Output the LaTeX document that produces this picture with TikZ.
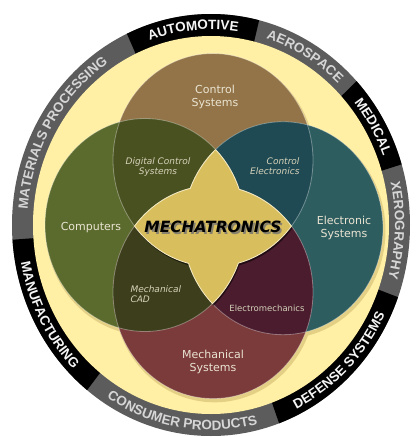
\documentclass[tikz,border=0pt]{standalone}
\usepackage{fontspec}
\setmainfont{DejaVu Sans}
\newfontfamily\ringfont{Liberation Sans}[UprightFont={* Bold}]
\usetikzlibrary{decorations.text,calc}
\definecolor{ringgray}{RGB}{92,92,92}
\definecolor{ringyellow}{RGB}{255,240,165}
\definecolor{ctlbrown}{RGB}{147,116,72}
\definecolor{compgreen}{RGB}{91,106,45}
\definecolor{electeal}{RGB}{46,93,96}
\definecolor{mechred}{RGB}{123,59,59}
\definecolor{dcsolive}{RGB}{74,81,32}
\definecolor{ceteal}{RGB}{31,74,83}
\definecolor{cadolive}{RGB}{61,63,28}
\definecolor{emplum}{RGB}{74,28,46}
\definecolor{stargold}{RGB}{217,190,94}
\definecolor{starline}{RGB}{245,235,195}
\definecolor{labcol}{RGB}{234,228,210}
\definecolor{smallcol}{RGB}{214,210,186}
\definecolor{shadowcol}{RGB}{228,208,132}
\definecolor{graytext}{RGB}{214,214,214}
\definecolor{blacktext}{RGB}{245,245,245}

\newcommand\ringout[4]{%
  \path[decorate, decoration={text along path, text align=center,
    text={|\ringfont\fontsize{13.5}{13.5}\selectfont\color{#3}|#4}}]
    ($(C)+(#1:184 and 195.5)$) arc[start angle=#1, end angle=#2, x radius=184, y radius=195.5];}
\newcommand\ringin[4]{%
  \path[decorate, decoration={text along path, text align=center,
    text={|\ringfont\fontsize{13.5}{13.5}\selectfont\color{#3}|#4}}]
    ($(C)+(#1:193.5 and 205)$) arc[start angle=#1, end angle=#2, x radius=193.5, y radius=205];}

\def\starpath{(4.57,70.84) arc[start angle=132.4, end angle=158.06, radius=100]
  arc[start angle=103.15, end angle=141.69, radius=100]
  arc[start angle=218.31, end angle=255.87, radius=100]
  arc[start angle=199.25, end angle=225.11, radius=100]
  arc[start angle=-47.6, end angle=-20.93, radius=100]
  arc[start angle=-75.28, end angle=-38.31, radius=100]
  arc[start angle=38.31, end angle=74.8, radius=100]
  arc[start angle=19.57, end angle=45.11, radius=100] -- cycle}

\tikzset{
  biglabel/.style={text=labcol, align=center, font=\fontsize{11}{13.5}\selectfont},
  smalllabel/.style={text=smallcol, font=\fontsize{9}{10.5}\selectfont\itshape},
  outline/.style={draw=white, draw opacity=.35, line width=.8pt},
}

\begin{document}
\begin{tikzpicture}[x=1pt,y=1pt]
\fill[white] (0,0) rectangle (419,-437);
\useasboundingbox (0,0) rectangle (419,-437);
\coordinate (C) at (211,-225);

% outer ring
\fill[ringgray] (C) ellipse [x radius=199, y radius=211];
\foreach \a/\b in {115/76, 43/16.7, -20/-70, 231.5/184}
  \fill[black] (C) -- ++(\a:199 and 211) arc[start angle=\a, end angle=\b, x radius=199, y radius=211] -- cycle;
\fill[ringyellow] (C) ellipse [x radius=178, y radius=189];

% ring labels
\ringout{184}{115}{graytext}{MATERIALS PROCESSING}
\ringout{115}{76}{blacktext}{AUTOMOTIVE}
\ringout{76}{43}{graytext}{AEROSPACE}
\ringout{43}{16.7}{blacktext}{MEDICAL}
\ringout{16.7}{-20}{graytext}{XEROGRAPHY}
\ringin{184}{231.5}{blacktext}{MANUFACTURING}
\ringin{231.5}{290}{graytext}{CONSUMER PRODUCTS}
\ringin{290}{340}{blacktext}{DEFENSE SYSTEMS}

% Venn circles
\begin{scope}[shift={(211,-225)}, yscale=1.065]
  \foreach \cx/\cy in {2/61,-66/0,72/-3,2/-63}
    \fill[shadowcol] (\cx+1.5,\cy-2.5) circle[radius=101];
  \fill[ctlbrown] (2,61) circle[radius=100];
  \fill[compgreen] (-66,0) circle[radius=100];
  \fill[electeal] (72,-3) circle[radius=100];
  \fill[mechred] (2,-63) circle[radius=100];
  \begin{scope}\clip (2,61) circle[radius=100]; \fill[dcsolive] (-66,0) circle[radius=100];\end{scope}
  \begin{scope}\clip (2,61) circle[radius=100]; \fill[ceteal] (72,-3) circle[radius=100];\end{scope}
  \begin{scope}\clip (2,-63) circle[radius=100]; \fill[cadolive] (-66,0) circle[radius=100];\end{scope}
  \begin{scope}\clip (2,-63) circle[radius=100]; \fill[emplum] (72,-3) circle[radius=100];\end{scope}
  \foreach \cx/\cy in {2/61,-66/0,72/-3,2/-63}
    \draw[outline] (\cx,\cy) circle[radius=100];
  % central star
  \fill[black, opacity=.55, shift={(1,-2)}] \starpath;
  \fill[stargold, draw=starline, line width=.8pt] \starpath;
\end{scope}

% labels
\node[biglabel] (ctl) at (215,-97) {Control\\Systems};
\node[biglabel] (comp) at (91,-228) {Computers};
\node[biglabel] (elec) at (344,-228) {Electronic\\Systems};
\node[biglabel] (mechs) at (213,-362) {Mechanical\\Systems};
\node[smalllabel, align=center] (dcs) at (158,-167) {Digital Control\\Systems};
\node[smalllabel, align=right, anchor=east] (ce) at (303,-166) {Control\\Electronics};
\node[smalllabel, align=left, anchor=west] (cad) at (127,-294) {Mechanical\\CAD};
\node[text=smallcol, font=\fontsize{8.5}{10}\selectfont] (em) at (267,-308) {Electromechanics};
\node[text=black!55, opacity=.8, font=\fontsize{15.5}{15.5}\selectfont\bfseries\itshape] (mshadow) at (214.6,-228.6) {MECHATRONICS};
\node[text=black, font=\fontsize{15.5}{15.5}\selectfont\bfseries\itshape] (mt) at (213,-227) {MECHATRONICS};
\end{tikzpicture}
\end{document}
